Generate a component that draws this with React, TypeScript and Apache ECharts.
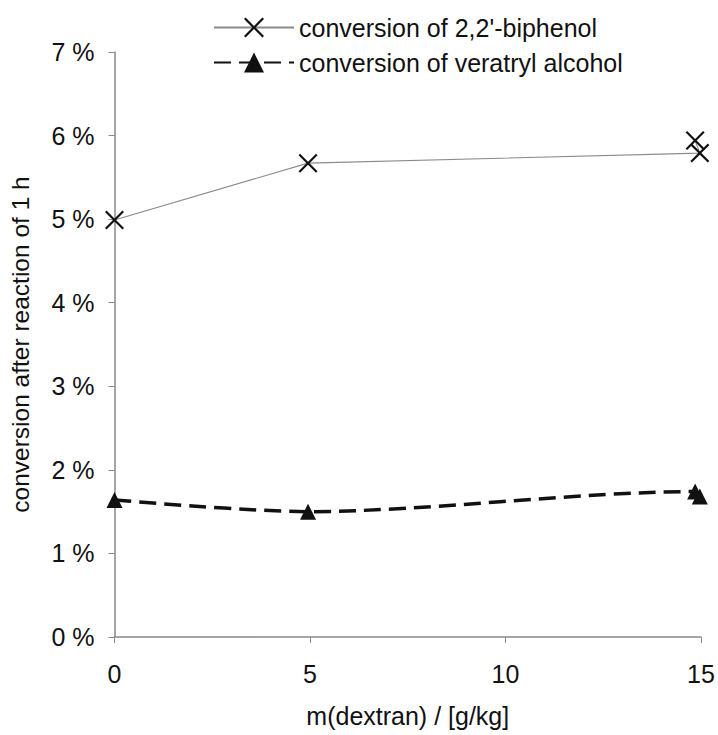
import React, { useEffect, useRef } from "react";
import * as echarts from "echarts";

const xTicks = [0, 5, 10, 15];
const biphenolX = [0, 4.95, 14.97, 14.85];
const biphenolY = [4.99, 5.67, 5.79, 5.94];
const veratrylX = [0, 4.95, 14.85, 14.97];
const veratrylY = [1.64, 1.5, 1.74, 1.68];
const seriesNames = ["conversion of 2,2'-biphenol", "conversion of veratryl alcohol"];
const xName = "m(dextran) / [g/kg]";
const yName = "conversion after reaction of 1 h";

const CROSS =
  "path://M0,1.6L1.6,0L10,8.4L18.4,0L20,1.6L11.6,10L20,18.4L18.4,20L10,11.6L1.6,20L0,18.4L8.4,10Z";

export default function App() {
  const ref = useRef<HTMLDivElement>(null);
  useEffect(() => {
    document.body.style.margin = "0";
    if (!ref.current) return;
    const chart = echarts.init(ref.current, undefined, { renderer: "svg" });
    const font = "'Liberation Sans', Arial, sans-serif";
    chart.setOption({
      animation: false,
      backgroundColor: "#fff",
      textStyle: { fontFamily: font, color: "#111" },
      legend: {
        orient: "vertical",
        left: 208,
        top: 10,
        itemWidth: 80,
        itemHeight: 25,
        itemGap: 10,
        textStyle: { fontSize: 25, color: "#111", fontFamily: font },
        data: seriesNames,
      },
      grid: { left: 113, right: 17, top: 52, bottom: 98, containLabel: false },
      xAxis: {
        type: "value",
        min: 0,
        max: 15,
        interval: 5,
        name: xName,
        nameLocation: "middle",
        nameGap: 79,
        nameTextStyle: { fontSize: 25, color: "#111", fontFamily: font, verticalAlign: "middle" },
        axisLine: { lineStyle: { color: "#888", width: 1.5 } },
        axisTick: { show: true, length: 6, lineStyle: { color: "#888" } },
        axisLabel: {
          fontSize: 25,
          color: "#111",
          margin: 24,
          fontFamily: font,
          formatter: (v: number) => (xTicks.includes(v) ? String(v) : ""),
        },
        splitLine: { show: false },
      },
      yAxis: {
        type: "value",
        min: 0,
        max: 7,
        interval: 1,
        name: yName,
        nameLocation: "middle",
        nameGap: 94,
        nameRotate: 90,
        nameTextStyle: { fontSize: 24.5, color: "#111", fontFamily: font, verticalAlign: "middle" },
        axisLine: { show: true, lineStyle: { color: "#888", width: 1.5 } },
        axisTick: { show: true, length: 6, lineStyle: { color: "#888" } },
        axisLabel: {
          fontSize: 25,
          color: "#111",
          margin: 20,
          fontFamily: font,
          formatter: (v: number) => `${v} %`,
        },
        splitLine: { show: false },
      },
      series: [
        {
          name: seriesNames[0],
          type: "line",
          data: biphenolX.map((x, i) => [x, biphenolY[i]]),
          symbol: CROSS,
          symbolSize: 19,
          itemStyle: { color: "#111" },
          lineStyle: { color: "#8a8a8a", width: 1.1 },
          z: 3,
        },
        {
          name: seriesNames[1],
          type: "line",
          data: veratrylX.map((x, i) => [x, veratrylY[i]]),
          symbol: "triangle",
          symbolSize: 16,
          smooth: 0.3,
          itemStyle: { color: "#111" },
          lineStyle: { color: "#111", width: 3.5, type: [17, 8] },
          z: 3,
        },
      ],
    });
    return () => chart.dispose();
  }, []);
  return <div ref={ref} style={{ width: 718, height: 735 }} />;
}
